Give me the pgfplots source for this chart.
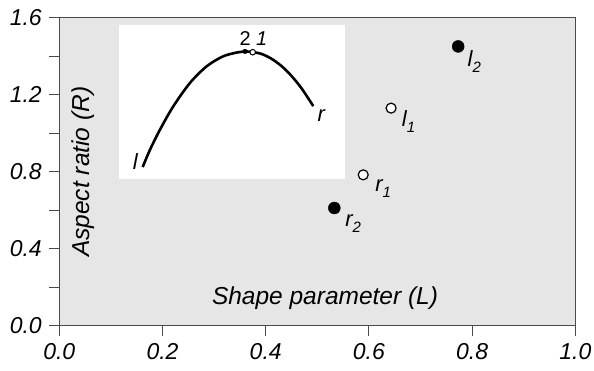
\documentclass[border=0pt]{standalone}
\usepackage{pgfplots}
\pgfplotsset{compat=1.18}
\usetikzlibrary{calc}
\usepackage{fontspec}
\setmainfont{Liberation Sans}
\definecolor{bg}{HTML}{E6E6E6}
\definecolor{ax}{HTML}{4A4A4A}
\newcommand{\tickf}{\fontsize{23}{23}\selectfont\itshape}
\newcommand{\bigf}{\fontsize{24.5}{24.5}\selectfont\itshape}
\newcommand{\labf}{\fontsize{22}{22}\selectfont\itshape}
\newcommand{\subf}{\fontsize{15}{15}\selectfont\itshape}
\newcommand{\sub}[2]{#1\raisebox{-0.55ex}{\subf #2}}
\begin{document}
\begin{tikzpicture}
\begin{axis}[
  scale only axis, width=516pt, height=308.5pt,
  xmin=0, xmax=1, ymin=0, ymax=1.6,
  axis background/.style={fill=bg},
  axis line style={draw=ax, line width=1pt},
  xtick={0,0.2,0.4,0.6,0.8,1.0},
  xticklabels={0.0,0.2,0.4,0.6,0.8,1.0},
  ytick={0,0.2,0.4,0.6,0.8,1.0,1.2,1.4,1.6},
  yticklabels={0.0,,0.4,,0.8,,1.2,,1.6},
  tick align=outside, major tick length=10pt,
  xtick pos=bottom, ytick pos=left,
  tick style={draw=ax, line width=1pt},
  ticklabel style={font=\tickf},
  xticklabel style={yshift=-4pt},
  yticklabel style={xshift=-4pt},
  clip=false,
]
\coordinate (O) at (rel axis cs:0,0);
% inset background
\addplot[fill=white, draw=none] coordinates {(0.1157,0.7636) (0.5537,0.7636) (0.5537,1.5636) (0.1157,1.5636)} -- cycle;
% inset curve
\addplot[black, line width=2.6pt, smooth, no marks] coordinates {
(0.1616,0.8244) (0.1758,0.9143) (0.1951,1.0182) (0.2209,1.1392) (0.2533,1.2608)
(0.2857,1.3470) (0.3178,1.3990) (0.3469,1.4197) (0.3650,1.4235) (0.3900,1.4126)
(0.4100,1.3880) (0.4300,1.3496) (0.4500,1.2970) (0.4700,1.2306) (0.4922,1.1405)};
\addplot[only marks, mark=*, mark size=2.3pt, black] coordinates {(0.3599,1.4240)};
\addplot[only marks, mark=*, mark size=2.8pt, mark options={fill=white, draw=black, line width=1pt}] coordinates {(0.3748,1.4200)};
% main points
\addplot[only marks, mark=*, mark size=6pt, black] coordinates {(0.773,1.45) (0.533,0.612)};
\addplot[only marks, mark=*, mark size=5pt, mark options={fill=white, draw=black, line width=1.2pt}] coordinates {(0.643,1.13) (0.589,0.784)};
% point labels
\node[anchor=base west, inner sep=0pt, font=\labf] at (axis cs:0.791,1.347) {\sub{l}{2}};
\node[anchor=base west, inner sep=0pt, font=\labf] at (axis cs:0.6636,1.035) {\sub{l}{1}};
\node[anchor=base west, inner sep=0pt, font=\labf] at (axis cs:0.612,0.698) {\sub{r}{1}};
\node[anchor=base west, inner sep=0pt, font=\labf] at (axis cs:0.554,0.516) {\sub{r}{2}};
% inset labels
\node[anchor=base west, inner sep=0pt, font=\fontsize{20}{20}\selectfont] at (axis cs:0.3489,1.456) {2};
\node[anchor=base west, inner sep=0pt, font=\fontsize{20}{20}\selectfont\itshape] at (axis cs:0.381,1.456) {1};
\node[anchor=base west, inner sep=0pt, font=\labf] at (axis cs:0.500,1.061) {r};
\node[anchor=base west, inner sep=0pt, font=\labf] at (axis cs:0.1422,0.814) {l};
% axis labels
\node[rotate=90, font=\bigf] at (axis cs:0.0465,0.8) {Aspect ratio (R)};
\node[font=\bigf] at (axis cs:0.515,0.145) {Shape parameter (L)};
\end{axis}
\pgfresetboundingbox
\path[use as bounding box] ($(O)+(-59.3pt,-45pt)$) rectangle ($(O)+(534.7pt,326pt)$);
\end{tikzpicture}
\end{document}
